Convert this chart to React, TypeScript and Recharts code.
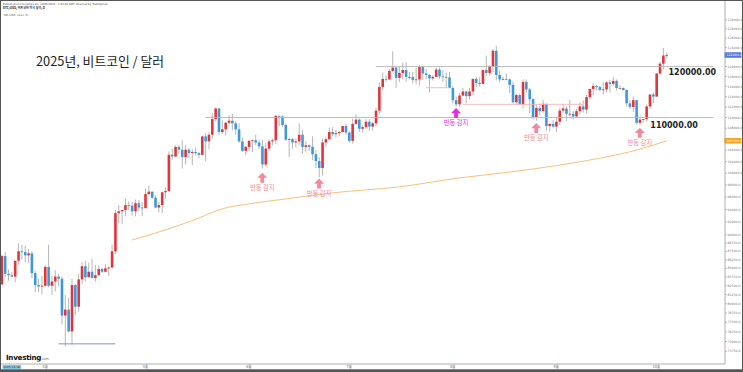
import React from "react";
import { ComposedChart, Bar, Line, XAxis, YAxis, ReferenceLine, ReferenceDot } from "recharts";

// ---- categories (daily, 2025) ----
const dates = [
  "03-19","03-20","03-21","03-22","03-23","03-24","03-25","03-26","03-27","03-28","03-29","03-30","03-31",
  "04-01","04-02","04-03","04-04","04-05","04-06","04-07","04-08","04-09","04-10","04-11","04-12","04-13","04-14","04-15","04-16","04-17","04-18","04-19","04-20","04-21","04-22","04-23","04-24","04-25","04-26","04-27","04-28","04-29","04-30",
  "05-01","05-02","05-03","05-04","05-05","05-06","05-07","05-08","05-09","05-10","05-11","05-12","05-13","05-14","05-15","05-16","05-17","05-18","05-19","05-20","05-21","05-22","05-23","05-24","05-25","05-26","05-27","05-28","05-29","05-30","05-31",
  "06-01","06-02","06-03","06-04","06-05","06-06","06-07","06-08","06-09","06-10","06-11","06-12","06-13","06-14","06-15","06-16","06-17","06-18","06-19","06-20","06-21","06-22","06-23","06-24","06-25","06-26","06-27","06-28","06-29","06-30",
  "07-01","07-02","07-03","07-04","07-05","07-06","07-07","07-08","07-09","07-10","07-11","07-12","07-13","07-14","07-15","07-16","07-17","07-18","07-19","07-20","07-21","07-22","07-23","07-24","07-25","07-26","07-27","07-28","07-29","07-30","07-31",
  "08-01","08-02","08-03","08-04","08-05","08-06","08-07","08-08","08-09","08-10","08-11","08-12","08-13","08-14","08-15","08-16","08-17","08-18","08-19","08-20","08-21","08-22","08-23","08-24","08-25","08-26","08-27","08-28","08-29","08-30","08-31",
  "09-01","09-02","09-03","09-04","09-05","09-06","09-07","09-08","09-09","09-10","09-11","09-12","09-13","09-14","09-15","09-16","09-17","09-18","09-19","09-20","09-21","09-22","09-23","09-24","09-25","09-26","09-27","09-28","09-29","09-30",
  "10-01","10-02","10-03","10-04","10-05","10-06","10-07","10-08","10-09","10-10","10-11","10-12","10-13","10-14","10-15","10-16","10-17","10-18","10-19","10-20","10-21",
];

// ---- BTC/USD daily candles, thousands of USD ----
const opens = [
  82.7,86.8,84.2,84.0,83.8,86.1,87.5,87.4,86.9,87.2,84.3,82.6,82.4,
  82.5,85.2,82.5,83.1,83.8,83.5,78.4,79.2,76.3,82.6,79.6,83.4,85.3,83.7,84.5,83.6,84.0,84.9,84.5,85.0,85.1,87.5,93.4,93.7,93.9,94.7,94.6,93.7,95.0,94.3,
  94.2,96.5,96.9,95.9,94.3,94.7,96.8,97.0,103.2,102.9,104.6,104.1,102.8,104.1,103.5,103.7,103.5,103.2,106.5,105.6,106.8,109.7,111.7,107.3,107.8,109.0,109.4,108.9,107.8,105.6,103.9,
  104.6,105.7,105.8,105.4,104.7,101.5,104.3,105.6,105.8,110.3,110.2,108.6,105.9,106.0,105.4,105.6,106.8,104.6,104.9,104.6,103.3,102.1,100.9,105.4,106.0,107.3,106.9,107.1,107.3,108.4,
  107.2,105.7,108.8,109.6,107.9,108.2,109.2,108.3,108.9,111.3,115.9,117.5,117.4,119.1,119.8,117.7,118.7,119.3,117.9,117.9,117.3,117.4,119.9,118.6,118.3,117.6,117.9,119.4,118.0,117.9,117.8,
  115.7,113.3,112.5,114.2,115.0,114.1,115.0,117.5,116.7,116.5,119.3,118.7,120.1,123.3,118.3,117.4,117.5,117.4,116.3,112.9,114.3,112.5,116.9,115.4,113.5,110.1,111.8,111.2,112.6,108.4,108.8,
  108.3,109.2,111.3,111.7,110.7,110.7,110.2,111.2,112.1,111.5,113.9,115.5,116.1,115.9,115.3,115.4,116.8,116.5,117.1,115.7,115.7,115.3,112.7,112.0,113.3,109.0,109.6,109.7,112.1,114.4,
  114.0,118.6,120.6,122.3,
];
const highs = [
  87.0,87.4,84.8,84.5,86.1,88.7,88.5,88.3,87.8,87.5,84.6,83.5,83.9,
  85.5,88.5,83.9,84.7,84.2,83.8,81.2,80.8,83.5,82.7,84.2,85.9,86.1,85.8,86.4,85.5,85.4,85.1,85.6,85.3,88.5,93.9,94.7,94.0,95.8,95.3,95.2,95.6,95.5,95.2,
  97.4,97.9,96.9,96.3,95.2,96.9,97.7,103.8,104.3,104.9,104.9,105.8,104.9,104.4,104.2,104.5,103.7,106.6,107.1,107.3,110.8,111.9,111.8,109.5,109.2,110.4,110.7,109.3,108.9,106.3,104.9,
  105.8,105.9,106.8,105.9,105.9,105.3,105.9,106.1,110.5,110.4,110.4,108.8,106.2,106.2,106.1,108.9,107.7,105.6,105.0,106.5,104.0,102.8,106.1,106.3,108.1,108.2,107.7,107.5,108.5,108.8,
  107.5,109.8,110.6,109.8,108.5,109.7,109.7,109.2,111.9,116.8,118.8,118.2,119.5,123.2,119.9,120.0,120.8,120.9,118.9,118.9,119.7,120.3,120.1,119.5,118.5,118.3,119.8,119.8,119.3,118.8,118.9,
  116.1,114.0,114.7,115.7,115.1,115.7,117.6,117.9,117.8,119.3,122.3,120.3,123.7,124.4,119.2,117.9,118.6,117.6,117.0,114.6,114.6,117.4,117.4,115.7,113.7,112.4,112.6,113.4,112.6,108.9,109.5,
  109.9,111.8,112.6,112.2,113.4,111.2,111.6,112.9,113.3,114.3,115.5,116.7,116.3,116.1,116.8,117.0,117.3,117.9,117.4,116.2,115.8,115.4,113.3,114.0,113.4,110.2,109.8,112.4,114.5,114.8,
  118.6,121.0,123.9,122.9,
];
const lows = [
  82.6,83.7,83.2,83.7,83.0,85.5,86.3,85.9,85.8,83.6,81.6,81.6,81.3,
  82.4,82.3,81.2,81.7,82.4,77.2,74.4,76.2,74.6,78.5,78.9,82.7,83.1,83.7,83.6,83.1,83.9,84.3,84.4,83.9,85.1,87.1,91.8,91.7,92.9,93.9,93.0,92.9,93.7,92.9,
  94.2,96.3,95.7,94.2,93.5,93.4,95.8,96.9,102.3,102.8,103.4,100.8,101.5,102.6,101.4,103.1,102.6,103.1,102.1,104.2,106.1,109.3,106.8,106.9,106.7,108.7,107.6,106.8,105.3,103.7,103.1,
  103.9,103.7,104.9,104.2,100.8,101.1,103.9,104.9,105.1,108.4,108.2,105.7,102.8,104.3,104.5,104.9,103.4,103.6,103.9,102.3,100.9,99.3,99.6,104.6,105.8,106.6,106.3,106.6,107.2,106.8,
  105.3,105.2,108.6,107.3,107.2,107.8,107.5,107.5,108.4,110.6,115.2,116.9,117.3,118.9,115.7,116.9,117.4,116.9,117.4,116.6,116.5,116.2,117.3,117.5,114.8,117.2,117.8,117.5,116.9,115.8,115.6,
  112.7,112.1,112.0,114.1,112.7,113.4,114.3,115.9,116.0,116.5,118.1,118.2,118.9,117.2,116.8,117.2,117.3,114.7,112.7,112.4,112.4,111.7,114.7,110.8,109.6,109.4,110.4,110.9,107.5,107.4,108.1,
  107.3,108.6,110.9,109.3,110.2,109.6,110.0,110.6,110.9,110.8,113.5,114.3,115.2,115.1,114.4,114.8,114.8,116.1,115.2,115.5,115.2,112.1,111.6,111.1,108.7,108.6,109.1,109.3,111.6,112.7,
  113.9,118.3,119.4,121.7,
];
const closes = [
  86.8,84.2,84.0,83.8,86.1,87.5,87.4,86.9,87.2,84.3,82.6,82.4,82.5,
  85.2,82.5,83.1,83.8,83.5,78.4,79.2,76.3,82.6,79.6,83.4,85.3,83.7,84.5,83.6,84.0,84.9,84.5,85.0,85.1,87.5,93.4,93.7,93.9,94.7,94.6,93.7,95.0,94.3,94.2,
  96.5,96.9,95.9,94.3,94.7,96.8,97.0,103.2,102.9,104.6,104.1,102.8,104.1,103.5,103.7,103.5,103.2,106.5,105.6,106.8,109.7,111.7,107.3,107.8,109.0,109.4,108.9,107.8,105.6,103.9,104.6,
  105.7,105.8,105.4,104.7,101.5,104.3,105.6,105.8,110.3,110.2,108.6,105.9,106.0,105.4,105.6,106.8,104.6,104.9,104.6,103.3,102.1,100.9,105.4,106.0,107.3,106.9,107.1,107.3,108.4,107.2,
  105.7,108.8,109.6,107.9,108.2,109.2,108.3,108.9,111.3,115.9,117.5,117.4,119.1,119.8,117.7,118.7,119.3,117.9,117.9,117.3,117.4,119.9,118.6,118.3,117.6,117.9,119.4,118.0,117.9,117.8,115.7,
  113.3,112.5,114.2,115.0,114.1,115.0,117.5,116.7,116.5,119.3,118.7,120.1,123.3,118.3,117.4,117.5,117.4,116.3,112.9,114.3,112.5,116.9,115.4,113.5,110.1,111.8,111.2,112.6,108.4,108.8,108.3,
  109.2,111.3,111.7,110.7,110.7,110.2,111.2,112.1,111.5,113.9,115.5,116.1,115.9,115.3,115.4,116.8,116.5,117.1,115.7,115.7,115.3,112.7,112.0,113.3,109.0,109.6,109.7,112.1,114.4,114.0,
  118.6,120.6,122.3,122.4,
];

// ---- 200-day moving average, read at selected days (thousands) ----
const maDates = ["04-27","05-06","05-15","05-24","06-01","06-12","06-26","07-16","08-03","08-18","09-02","09-14","09-26","10-04"];
const maValues = [89.2,90.6,92.2,94.1,94.9,95.7,96.7,97.7,99.2,100.2,101.4,102.6,104.2,105.7];

// ---- axis labels ----
const monthLabels: Record<string, string> = {
  "04-01": "4월", "05-01": "5월", "06-01": "6월", "07-01": "7월", "08-01": "8월", "09-01": "9월", "10-01": "10월",
};
const yTicks = [
  130000,128000,126000,124000,120000,118000,116000,114000,112000,110000,108000,104000,102000,100000,
  98000,96000,94000,92000,90000,88750,87500,86250,85000,83750,82500,81250,80000,78750,77500,76250,75000,73750,
];

// ---- annotations ----
const lastPrice = 122400;
const lastMa = 105700;
const arrows = [
  { d: "06-05", p: 100100, kind: "pink" },
  { d: "06-22", p: 99100, kind: "pink" },
  { d: "08-02", p: 111800, kind: "magenta" },
  { d: "08-26", p: 108970, kind: "pink" },
  { d: "09-26", p: 108100, kind: "pink" },
];

const RED = "#e2353b";
const BLUE = "#3d98dd";
const WICK = "#a3a3a3";
const PINK = "#f28a99";
const MAGENTA = "#e22de2";
const KR = "'Noto Sans CJK KR', 'Noto Sans', sans-serif";

const maMap: Record<string, number> = {};
maDates.forEach((d, i) => { maMap[d] = maValues[i] * 1000; });

const rows = dates.map((d, i) => {
  const row: any = { d, ma: maMap[d] ?? null };
  if (opens[i] !== undefined) {
    row.o = opens[i] * 1000;
    row.h = highs[i] * 1000;
    row.l = lows[i] * 1000;
    row.c = closes[i] * 1000;
    row.range = [row.l, row.h];
  }
  return row;
});

const Candle = (props: any) => {
  const { x, y, width, height, payload } = props;
  if (!payload || payload.h == null) return null;
  const top = Math.min(y, y + height);
  const bot = Math.max(y, y + height);
  const lh = Math.log(payload.h);
  const ll = Math.log(payload.l);
  const span = lh - ll || 1;
  const py = (v: number) => top + ((lh - Math.log(v)) / span) * (bot - top);
  const cx = x + width / 2;
  const yo = py(payload.o);
  const yc = py(payload.c);
  const up = payload.c >= payload.o;
  const bTop = Math.min(yo, yc);
  const bH = Math.max(Math.abs(yc - yo), 0.8);
  return (
    <g>
      <line x1={cx} x2={cx} y1={top} y2={bot} stroke={WICK} strokeWidth={0.8} />
      <rect x={cx - 1.3} y={bTop} width={2.6} height={bH} fill={up ? RED : BLUE} />
    </g>
  );
};

const Arrow = (color: string) => (props: any) => {
  const { cx, cy } = props;
  if (cx == null || cy == null) return null;
  const pts = [
    [cx, cy], [cx + 5, cy + 5.2], [cx + 1.9, cy + 5.2], [cx + 1.9, cy + 10],
    [cx - 1.9, cy + 10], [cx - 1.9, cy + 5.2], [cx - 5, cy + 5.2],
  ].map((p) => p.join(",")).join(" ");
  return (
    <g>
      <polygon points={pts} fill={color} />
      <text x={cx} y={cy + 17} textAnchor="middle" fontSize={6.3} fill={color} fontFamily={KR}>반등 감지</text>
    </g>
  );
};

const LevelText = (txt: string, dx: number, dy: number) => (props: any) => {
  const { cx, cy } = props;
  if (cx == null || cy == null) return null;
  return (
    <text x={cx + dx} y={cy + dy} fontSize={8} fontWeight={700} fill="#1e1e1e" fontFamily="'DejaVu Sans', sans-serif">{txt}</text>
  );
};

const PriceTag = (props: any) => {
  const { viewBox, fill, value } = props;
  if (!viewBox) return null;
  const x = viewBox.x + viewBox.width;
  const y = viewBox.y;
  return (
    <g>
      <rect x={x - 0.5} y={y - 2.8} width={17} height={5.6} fill={fill} rx={0.6} />
      <text x={x + 1.5} y={y + 1.2} fontSize={3.2} fill="#ffffff" fontFamily="'DejaVu Sans', sans-serif">{value}</text>
    </g>
  );
};

export default function App() {
  return (
    <div style={{ position: "absolute", left: 0, top: 0, width: 743, height: 372, background: "#ffffff", overflow: "hidden" }}>
      <ComposedChart width={743} height={372} data={rows} margin={{ top: 0, right: 0, bottom: 0, left: 0 }} barCategoryGap="10%">
        <XAxis
          dataKey="d"
          interval={0}
          height={8}
          tickLine={false}
          tickSize={1}
          axisLine={{ stroke: "#9a9a9a", strokeWidth: 0.8 }}
          tickMargin={0.4}
          tickFormatter={(v: string) => monthLabels[v] || ""}
          tick={{ fontSize: 3.6, fill: "#666", fontFamily: KR }}
        />
        <YAxis
          orientation="right"
          type="number"
          scale="log"
          domain={[72170, 134470]}
          allowDataOverflow
          ticks={yTicks}
          interval={0}
          width={18}
          tickSize={2}
          tickMargin={0.6}
          axisLine={{ stroke: "#9a9a9a", strokeWidth: 0.8 }}
          tickLine={{ stroke: "#9a9a9a", strokeWidth: 0.6 }}
          tickFormatter={(v: number) => v.toFixed(1)}
          tick={{ fontSize: 3.1, fill: "#777", fontFamily: "'DejaVu Sans', sans-serif" }}
        />
        <ReferenceLine segment={[{ x: "07-09", y: 120000 }, { x: "10-18", y: 120000 }]} stroke="#b5b5b5" strokeWidth={0.9} />
        <ReferenceLine segment={[{ x: "05-19", y: 110000 }, { x: "10-18", y: 110000 }]} stroke="#b5b5b5" strokeWidth={0.9} />
        <ReferenceLine segment={[{ x: "07-24", y: 115750 }, { x: "07-31", y: 115750 }]} stroke="#f3b5ba" strokeWidth={0.9} />
        <ReferenceLine segment={[{ x: "08-04", y: 112500 }, { x: "09-09", y: 112500 }]} stroke="#f3b5ba" strokeWidth={0.9} />
        <ReferenceLine segment={[{ x: "04-05", y: 74700 }, { x: "04-22", y: 74700 }]} stroke="#7d80d9" strokeWidth={0.9} />
        <Line dataKey="ma" type="monotone" connectNulls dot={false} stroke="#f6c27a" strokeWidth={1} isAnimationActive={false} />
        <Bar dataKey="range" shape={<Candle />} isAnimationActive={false} />
        {arrows.map((a) => (
          <ReferenceDot key={a.d} x={a.d} y={a.p} r={0} shape={Arrow(a.kind === "magenta" ? MAGENTA : PINK)} />
        ))}
        <ReferenceDot x="10-04" y={120000} r={0} shape={LevelText("120000.00", 2, 8.5)} />
        <ReferenceDot x="09-29" y={110000} r={0} shape={LevelText("110000.00", 0.5, 10.5)} />
        <ReferenceLine y={lastMa} stroke="none" label={<PriceTag fill="#f5a21e" value={lastMa.toFixed(1)} />} />
        <ReferenceLine y={lastPrice} stroke="none" label={<PriceTag fill="#4f78dc" value={lastPrice.toFixed(1)} />} />
      </ComposedChart>
      <svg width={743} height={372} style={{ position: "absolute", left: 0, top: 0, pointerEvents: "none" }}>
        <text x={3} y={4.8} fontSize={2.6} fill="#444" fontFamily="'DejaVu Sans', sans-serif">Published on Investing.com, 10/05/2025 - 2:44:08 GMT, Powered by TradingView.</text>
        <text x={3} y={9.2} fontSize={3} fontWeight={700} fill="#222" fontFamily={KR}>BTC/USD, 비트코인 미국 달러, D</text>
        <text x={4} y={15.5} fontSize={2.7} fill="#555" fontFamily="'DejaVu Sans', sans-serif">MA (200, close, 0)</text>
        <text x={36} y={66} fontSize={12.8} fill="#222" fontFamily={KR}>2025년, 비트코인 / 달러</text>
        <text x={6} y={359.5} fontSize={7.2} fontWeight={800} fill="#111" fontFamily="'DejaVu Sans', sans-serif" letterSpacing={-0.3}>Investing<tspan fontSize={3.6} fontWeight={400} fill="#777">.com</tspan></text>
        <rect x={2.5} y={365} width={18.5} height={4.3} fill="#86c7e4" />
        <text x={3.5} y={368.3} fontSize={2.8} fill="#1a3a4a" fontFamily="'DejaVu Sans', sans-serif">2025-03-18</text>
        <rect x={0.5} y={0.5} width={742} height={371} fill="none" stroke="#555" strokeWidth={1} />
        <rect x={0} y={369.3} width={743} height={2.7} fill="#555" />
      </svg>
    </div>
  );
}
